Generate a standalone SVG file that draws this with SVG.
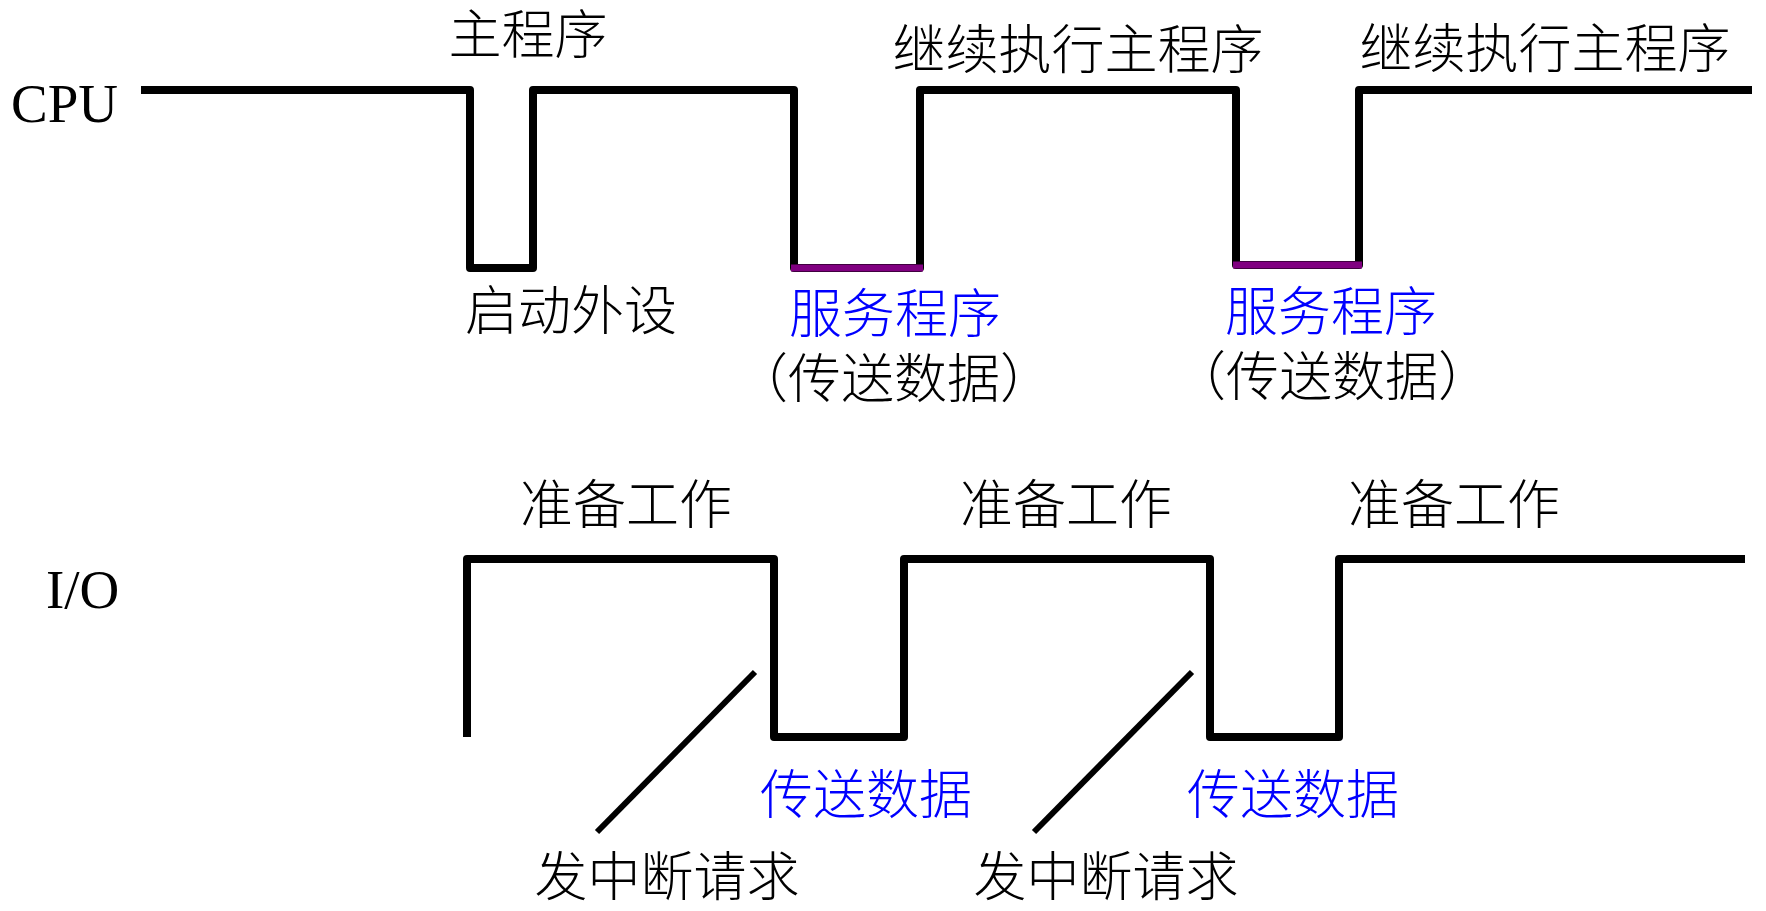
<svg xmlns="http://www.w3.org/2000/svg" width="1766" height="911" viewBox="0 0 1766 911">
<style>
.lat{font-family:"Liberation Serif","Times New Roman",serif;font-size:55px;fill:#000}
.cn{font-family:"Liberation Serif","Noto Sans CJK SC",sans-serif;font-size:53px;font-weight:300;fill:#000;text-anchor:middle}
.blue{fill:#0000ff}
.wave{fill:none;stroke:#000;stroke-width:8;stroke-linejoin:round;stroke-linecap:butt}
.svc{fill:none;stroke:#800080;stroke-width:7;stroke-linecap:butt}
.req{fill:none;stroke:#000;stroke-width:6;stroke-linecap:butt}
</style>
<rect width="1766" height="911" fill="#fff"/>
<g id="cpu">
<text class="lat" x="11" y="122">CPU</text>
<path class="wave" d="M141,90 H470 V268 H533 V90 H794 V268 H920 V90 H1236 V265 H1359 V90 H1752"/>
<path class="svc" d="M791,268 H923 M1233,265 H1362"/>
<text class="cn" x="528" y="54">主程序</text>
<text class="cn" x="1078" y="69">继续执行主程序</text>
<text class="cn" x="1545" y="68">继续执行主程序</text>
<text class="cn" x="571" y="330">启动外设</text>
<text class="cn blue" x="895" y="333">服务程序</text>
<text class="cn" x="894" y="398">（传送数据）</text>
<text class="cn blue" x="1331" y="331">服务程序</text>
<text class="cn" x="1332" y="396">（传送数据）</text>
</g>
<g id="io">
<text class="lat" x="46" y="608">I/O</text>
<path class="wave" d="M467,737 V559 H774 V737 H904 V559 H1210 V737 H1339 V559 H1745"/>
<text class="cn" x="626" y="524">准备工作</text>
<text class="cn" x="1066" y="524">准备工作</text>
<text class="cn" x="1454" y="524">准备工作</text>
<text class="cn blue" x="866" y="814">传送数据</text>
<text class="cn blue" x="1293" y="814">传送数据</text>
<text class="cn" x="667" y="896">发中断请求</text>
<text class="cn" x="1106" y="896">发中断请求</text>
</g>
<g id="connectors">
<line class="req" x1="597" y1="832" x2="755" y2="672"/>
<line class="req" x1="1034" y1="832" x2="1192" y2="672"/>
</g>
</svg>
